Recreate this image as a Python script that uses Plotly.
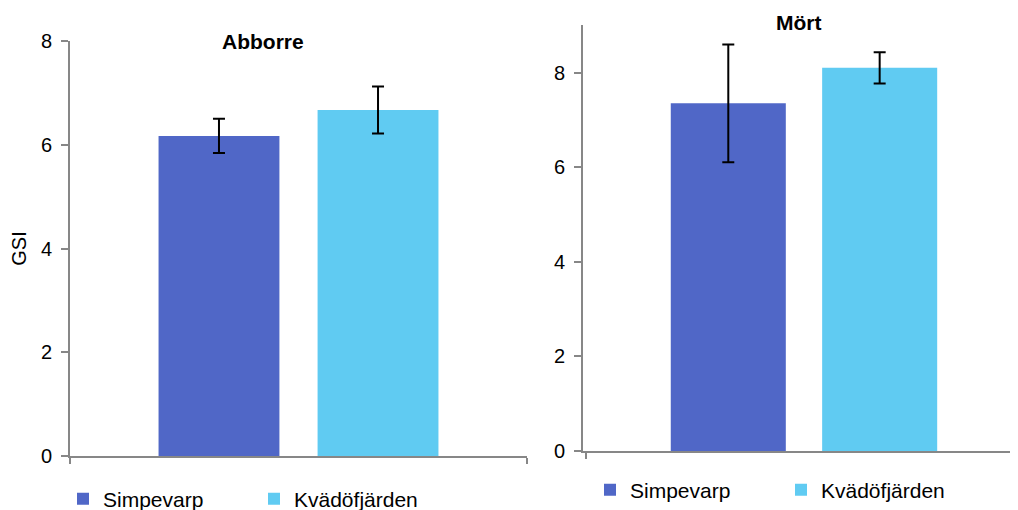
import plotly.graph_objects as go

# The page body adds an 8px offset; the figure is sized so that it fills the
# 1018x510 window exactly from that offset.
OFF = 8
W, H = 1018 - OFF, 510 - OFF

series = ["Simpevarp", "Kvädöfjärden"]
colors = ["#5067C7", "#60CBF2"]
category = [""]

abborre_mean = [6.17, 6.67]
abborre_err = [0.33, 0.455]

mort_mean = [7.35, 8.10]
mort_err = [1.245, 0.33]

font_family = "Liberation Sans, Arial, sans-serif"
axis_color = "#878787"


def px_x(p):
    return (p - OFF) / W


def px_y(p):
    return 1 - (p - OFF) / H


fig = go.Figure()

for i, name in enumerate(series):
    fig.add_trace(go.Bar(
        x=category, y=[abborre_mean[i]], name=name,
        marker=dict(color=colors[i], line=dict(width=0)),
        error_y=dict(type="data", array=[abborre_err[i]], color="black", thickness=2, width=6),
        xaxis="x", yaxis="y", legend="legend",
    ))

for i, name in enumerate(series):
    fig.add_trace(go.Bar(
        x=category, y=[mort_mean[i]], name=name,
        marker=dict(color=colors[i], line=dict(width=0)),
        error_y=dict(type="data", array=[mort_err[i]], color="black", thickness=2, width=6),
        xaxis="x2", yaxis="y2", legend="legend2",
    ))

xcommon = dict(showline=True, linecolor=axis_color, linewidth=2, ticks="outside",
               tickson="boundaries", ticklen=6, tickcolor=axis_color, tickwidth=2,
               showticklabels=False, showgrid=False, zeroline=False, fixedrange=True)
ycommon = dict(showline=True, linecolor=axis_color, linewidth=2, ticks="outside",
               ticklen=7, tickcolor=axis_color, tickwidth=2, showgrid=False, zeroline=False,
               tickfont=dict(size=20, color="black", family=font_family),
               ticklabelstandoff=5, dtick=2, tick0=0)

legend_common = dict(orientation="h", xanchor="left", yanchor="middle",
                     entrywidth=146, entrywidthmode="pixels",
                     font=dict(size=21, color="black", family=font_family),
                     bgcolor="rgba(0,0,0,0)", borderwidth=0, traceorder="normal")

fig.update_layout(
    width=W, height=H,
    margin=dict(l=0, r=0, t=0, b=0, autoexpand=False),
    paper_bgcolor="white", plot_bgcolor="white",
    font=dict(family=font_family, color="black"),
    barmode="group", bargap=0.304, bargroupgap=0.24,
    xaxis=dict(domain=[px_x(70), px_x(527)], anchor="y", range=[-0.5, 0.5], **xcommon),
    yaxis=dict(domain=[px_y(456), px_y(41)], anchor="x", range=[0, 8],
               title=dict(text="GSI", font=dict(size=20, color="black", family=font_family), standoff=17),
               **ycommon),
    xaxis2=dict(domain=[px_x(583), 1.0], anchor="y2", range=[-0.508, 0.492], **xcommon),
    yaxis2=dict(domain=[px_y(451), px_y(25.3)], anchor="x2", range=[0, 9], **ycommon),
    legend=dict(x=px_x(63), y=px_y(499), **legend_common),
    legend2=dict(x=px_x(590), y=px_y(490), **legend_common),
    annotations=[
        dict(text="<b>Abborre</b>", x=px_x(263), y=px_y(42), xref="paper", yref="paper",
             showarrow=False, xanchor="center", yanchor="middle",
             font=dict(size=21, color="black", family=font_family)),
        dict(text="<b>Mört</b>", x=px_x(799), y=px_y(23), xref="paper", yref="paper",
             showarrow=False, xanchor="center", yanchor="middle",
             font=dict(size=21, color="black", family=font_family)),
    ],
)

fig.write_html("out.html")
